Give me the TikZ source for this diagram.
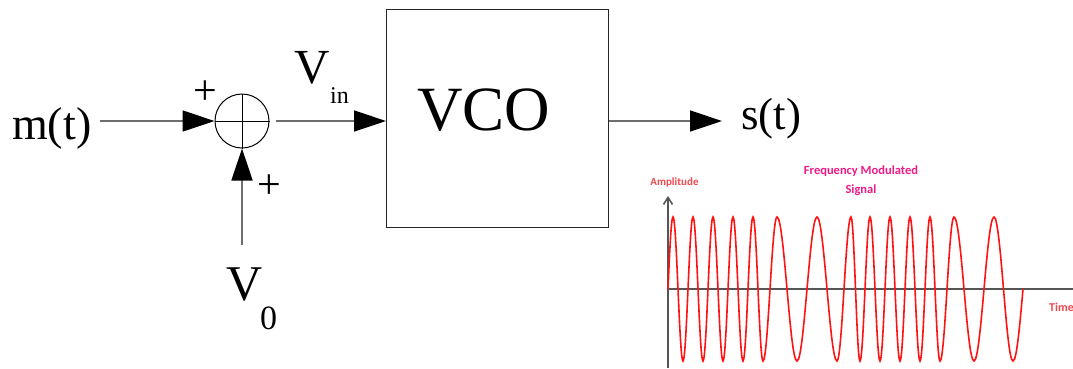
\documentclass[tikz,border=0pt]{standalone}
\usepackage{fontspec}
\setmainfont{Liberation Serif}
\newfontfamily\calib{Carlito}
\usetikzlibrary{arrows.meta}
\definecolor{linegray}{HTML}{6E6E6E}
\definecolor{axisgray}{HTML}{555555}
\definecolor{ampred}{HTML}{F0484E}
\definecolor{fmpink}{HTML}{EE1A86}
\definecolor{wavered}{HTML}{FF1212}
\tikzset{
  conn/.style={draw=linegray, line width=1.5pt, -{Triangle[length=32pt,width=21pt,color=black]}},
  txt/.style={inner sep=0pt, anchor=base west},
  plus/.style={inner sep=0pt, font=\fontsize{42}{46}\selectfont},
  blockbox/.style={draw=black!85, line width=1.2pt, minimum width=222pt, minimum height=218pt, inner sep=0pt, anchor=north west},
  sumnode/.style={circle, draw=black, line width=1pt, minimum size=54pt, inner sep=0pt},
  axis/.style={draw=axisgray, line width=2pt},
  fmwave/.style={draw=wavered, line width=1.6pt},
  fmlabel/.style={inner sep=0pt, font=\calib\bfseries\fontsize{12.5}{19}\selectfont, align=center}
}
\begin{document}
\begin{tikzpicture}[x=1pt,y=-1pt]
\useasboundingbox (0,0) rectangle (1073,368);
% block diagram
\node[txt, font=\fontsize{46}{52}\selectfont] (mt) at (12,139) {m(t)};
\coordinate (min) at (100,121);
\node[sumnode] (sum) at (242,121) {};
\draw[line width=1pt] (sum.north) -- (sum.south) (sum.west) -- (sum.east);
\node[plus] (p1) at (205,93) {+};
\node[plus] (p2) at (269,187) {+};
\coordinate (v0in) at (242,245);
\node[blockbox] (vco) at (386,9) {};
\node[txt, font=\fontsize{63}{70}\selectfont] (vcolab) at (417,130) {VCO};
\node[txt, font=\fontsize{49}{55}\selectfont] (vinV) at (294,83) {V};
\node[txt, font=\fontsize{24}{28}\selectfont] (vinS) at (330,103) {in};
\node[txt, font=\fontsize{50}{56}\selectfont] (v0V) at (226,300) {V};
\node[txt, font=\fontsize{34}{38}\selectfont] (v0S) at (260,329) {0};
\node[txt, font=\fontsize{45}{50}\selectfont] (st) at (741,129) {s(t)};
\coordinate (sout) at (722,121);
\draw[conn] (min) -- (sum.west);
\draw[conn] (v0in) -- (sum.south);
\draw[conn] ([xshift=6pt]sum.east) -- (sum -| vco.west);
\draw[conn] (sum -| vco.east) -- (sout);
% FM signal plot
\coordinate (origin) at (668,289);
\coordinate (ytop) at (668,196);
\coordinate (ybot) at (668,368);
\coordinate (xend) at (1073,289);
\draw[axis] (ybot) -- (origin) -- (xend);
\draw[axis, line width=1.6pt, -{Straight Barb[length=7pt,width=9pt]}] (origin) -- (ytop);
\draw[fmwave] (668,289) sin (673,217)
 cos (678,289) sin (683,361)
 cos (688,289) sin (693,217)
 cos (698,289) sin (703,361)
 cos (708,289) sin (713,217)
 cos (718,289) sin (723,361)
 cos (728,289) sin (733,217)
 cos (738,289) sin (743,361)
 cos (748,289) sin (753,217)
 cos (758,289) sin (763,361)
 cos (770,289) sin (777,217)
 cos (787,289) sin (797,361)
 cos (807,289) sin (817,217)
 cos (827,289) sin (837,361)
 cos (844,289) sin (851,217)
 cos (855.5,289) sin (860,361)
 cos (865,289) sin (870,217)
 cos (875,289) sin (880,361)
 cos (885,289) sin (890,217)
 cos (895,289) sin (900,361)
 cos (905,289) sin (910,217)
 cos (915,289) sin (920,361)
 cos (925,289) sin (930,217)
 cos (935,289) sin (940,361)
 cos (947,289) sin (954,217)
 cos (964,289) sin (974,361)
 cos (984,289) sin (994,217)
 cos (1003.5,289) sin (1013,361)
 cos (1023,289);
\node[fmlabel, text=ampred, font=\calib\bfseries\fontsize{11}{13}\selectfont] (amp) at (674.5,182) {Amplitude};
\node[fmlabel, text=fmpink] (fmtitle) at (861,181) {Frequency Modulated\\Signal};
\node[fmlabel, text=ampred, font=\calib\bfseries\fontsize{12}{14}\selectfont, anchor=east] (time) at (1074,307) {Time};
\end{tikzpicture}
\end{document}
